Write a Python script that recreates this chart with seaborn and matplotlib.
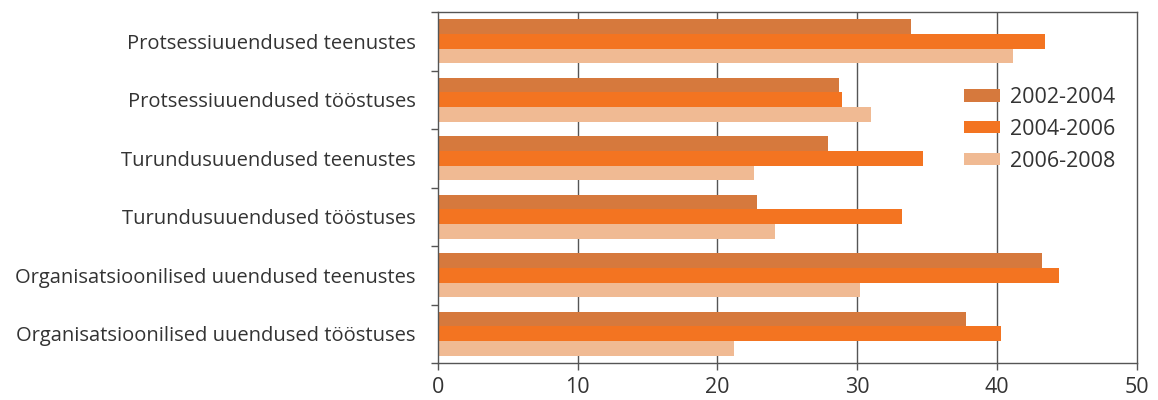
import matplotlib
matplotlib.use("Agg")
import matplotlib.pyplot as plt
import seaborn as sns
import pandas as pd
import numpy as np

categories = [
    "Protsessiuuendused teenustes",
    "Protsessiuuendused tööstuses",
    "Turundusuuendused teenustes",
    "Turundusuuendused tööstuses",
    "Organisatsioonilised uuendused teenustes",
    "Organisatsioonilised uuendused tööstuses",
]
periods = ["2002-2004", "2004-2006", "2006-2008"]
v_2002_2004 = [33.8, 28.7, 27.9, 22.8, 43.2, 37.8]
v_2004_2006 = [43.4, 28.9, 34.7, 33.2, 44.4, 40.3]
v_2006_2008 = [41.1, 31.0, 22.6, 24.1, 30.2, 21.2]
xticks = [0, 10, 20, 30, 40, 50]

colors = ["#D6793D", "#F37421", "#F0BA93"]

rows = []
for p, vals in zip(periods, [v_2002_2004, v_2004_2006, v_2006_2008]):
    for c, v in zip(categories, vals):
        rows.append({"cat": c, "period": p, "value": v})
df = pd.DataFrame(rows)

sns.set_style("white")
plt.rcParams["font.family"] = ["Open Sans", "DejaVu Sans"]
text_color = "#333333"
line_color = "#555555"

fig = plt.figure(figsize=(11.58, 4.0), dpi=100)
ax = fig.add_axes([0.378, 0.0925, 0.604, 0.8775])

sns.barplot(data=df, y="cat", x="value", hue="period", order=categories,
            hue_order=periods, palette=colors, orient="h", width=0.75,
            saturation=1, linewidth=0, edgecolor="none", ax=ax, legend=True)

ax.set_xlim(0, 50)
ax.set_ylim(5.5, -0.5)
ax.set_xticks(xticks)
ax.set_xticklabels([str(t) for t in xticks], fontsize=15.5, color=text_color)
ax.set_yticks(range(len(categories)))
ax.set_yticklabels(categories, fontsize=14.5, color=text_color)
ax.tick_params(axis="y", which="major", left=True, length=0, pad=16)
ax.set_yticks(np.arange(-0.5, len(categories), 1.0), minor=True)
ax.tick_params(axis="y", which="minor", left=True, length=5, color=line_color,
               width=1, direction="out")
ax.tick_params(axis="x", which="major", bottom=True, length=5, color=line_color,
               width=1, direction="out", pad=5)
ax.set_xlabel("")
ax.set_ylabel("")

for x in xticks[1:-1]:
    ax.axvline(x, color=line_color, lw=1, zorder=0)
for s in ax.spines.values():
    s.set_visible(True)
    s.set_color(line_color)
    s.set_linewidth(1)

handles, labels = ax.get_legend_handles_labels()
leg = ax.legend(handles, labels, loc="upper left", bbox_to_anchor=(0.753, 0.786),
                borderaxespad=0, borderpad=0,
                frameon=False, fontsize=15.5, handlelength=1.65, handleheight=0.5,
                labelspacing=0.5, handletextpad=0.45)
for t in leg.get_texts():
    t.set_color(text_color)

fig.savefig("out.png", dpi=100)
